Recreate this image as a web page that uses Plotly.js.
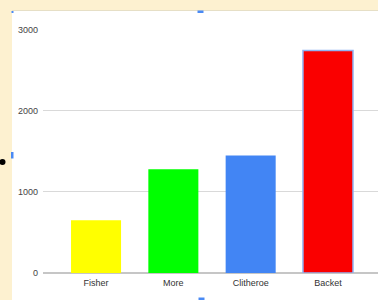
<!DOCTYPE html>
<html>
<head>
<meta charset="utf-8">
<script src="https://cdn.plot.ly/plotly-3.0.1.min.js"></script>
<style>html,body{margin:0;padding:0;background:#fdf1d0;}#chart{width:378px;height:300px;}</style>
</head>
<body>
<div id="chart"></div>
<script>
const categories = ["Fisher", "More", "Clitheroe", "Backet"];
const values = [650, 1280, 1450, 2745];
const barColors = ["#ffff00", "#00ff00", "#4285f4", "#fa0000"];
const yTicks = [0, 1000, 2000, 3000];

// pixel helpers for decorations (plot area x 43..378, y 29..273)
const L = 43, R = 378, T = 29, B = 273;
const px = x => (x - L) / (R - L);
const py = y => (B - y) / (B - T);
function rect(x0, y0, x1, y1, color) {
  return {type: 'rect', xref: 'paper', yref: 'paper', x0: px(x0), x1: px(x1), y0: py(y1), y1: py(y0),
          fillcolor: color, line: {width: 0}, layer: 'above'};
}

const trace = {
  type: 'bar',
  x: categories,
  y: values,
  marker: {
    color: barColors,
    line: {color: ['rgba(0,0,0,0)', 'rgba(0,0,0,0)', 'rgba(0,0,0,0)', '#8fb2f2'], width: [0, 0, 0, 1.5]}
  },
  hoverinfo: 'none'
};

const layout = {
  width: 378, height: 300,
  margin: {l: L, r: 378 - R, t: T, b: 300 - B},
  paper_bgcolor: '#fdf1d0',
  plot_bgcolor: 'rgba(0,0,0,0)',
  showlegend: false,
  bargap: 0.353,
  font: {family: 'Liberation Sans, Arial, sans-serif', size: 9, color: '#444'},
  xaxis: {
    range: [-0.686, 3.647], showgrid: false, showline: false, ticks: '', fixedrange: true,
    ticklabelstandoff: 3,
    tickfont: {size: 9, color: '#333'}
  },
  yaxis: {
    range: [0, 3010], tickvals: yTicks, ticktext: yTicks.map(String),
    showgrid: true, gridcolor: '#d9d9d9', gridwidth: 1,
    zeroline: true, zerolinecolor: '#c6c6c6', zerolinewidth: 1.5,
    showline: false, ticks: '', ticklabelstandoff: 4, fixedrange: true,
    tickfont: {size: 9, color: '#444'}
  },
  shapes: [
    {type: 'rect', xref: 'paper', yref: 'paper', x0: px(12), x1: px(380), y0: py(301), y1: py(11),
     fillcolor: '#ffffff', line: {width: 0}, layer: 'below'},
    {type: 'line', xref: 'paper', yref: 'paper', x0: px(12), x1: px(380), y0: py(10.5), y1: py(10.5),
     line: {color: '#e6dfc6', width: 1}, layer: 'below'},
    rect(197.5, 10.5, 203.5, 13, '#4a8af4'),
    rect(11, 152, 13.5, 158.5, '#4a8af4'),
    rect(198.5, 297.5, 204.5, 300, '#4a8af4'),
    rect(11.5, 11, 13.5, 13, '#4a8af4'),
    {type: 'circle', xref: 'paper', yref: 'paper', x0: px(-0.5), x1: px(5.5), y0: py(165), y1: py(159),
     fillcolor: '#000000', line: {width: 0}, layer: 'above'}
  ]
};

Plotly.newPlot('chart', [trace], layout, {displayModeBar: false, staticPlot: true});
</script>
</body>
</html>
